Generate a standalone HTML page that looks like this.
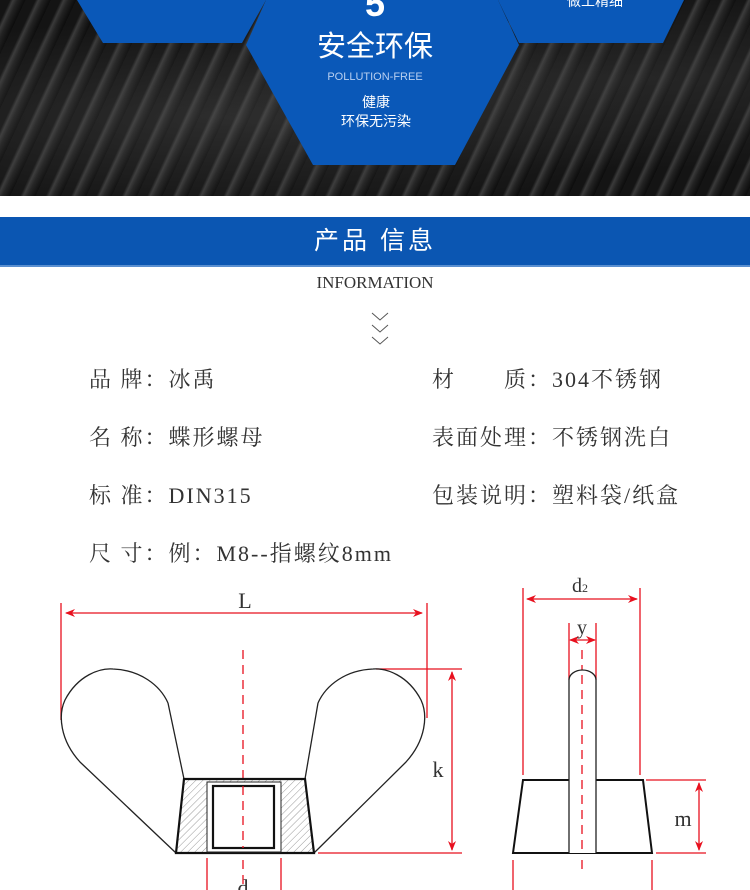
<!DOCTYPE html>
<html><head><meta charset="utf-8"><style>
html,body{margin:0;padding:0;background:#fff;}
body{width:750px;height:890px;position:relative;overflow:hidden;font-family:"Liberation Sans","Noto Sans CJK SC",sans-serif;}
.top{position:absolute;left:0;top:0;width:750px;height:196px;
background:
radial-gradient(ellipse at 30% 60%,rgba(90,90,90,.35),rgba(0,0,0,0) 60%),
radial-gradient(ellipse at 85% 40%,rgba(80,80,80,.3),rgba(0,0,0,0) 55%),
repeating-linear-gradient(115deg,#141414 0 9px,#3a3a3a 12px,#222 16px,#0c0c0c 23px),#1a1a1a;}
.bar{position:absolute;left:0;top:217px;width:750px;height:48px;background:#0b56b2;border-bottom:2px solid #5a8fd0;}
.bar div{color:#fff;font-size:25px;text-align:center;line-height:48px;letter-spacing:3px;font-family:"Liberation Sans","Noto Sans CJK SC",sans-serif;}
.info{position:absolute;font-family:"Liberation Serif","Noto Serif CJK SC",serif;font-size:22px;letter-spacing:2px;color:#333;white-space:pre;}
</style></head><body>
<div class="top"></div>
<svg style="position:absolute;left:0;top:0" width="750" height="200">
<polygon points="77,0 266,0 242,43 103,43" fill="#0a58b8"/>
<polygon points="498,0 684,0 663,43 519,43" fill="#0a58b8"/>
<polygon points="266,0 498,0 519,45 455,165 313,165 246,45" fill="#0a58b8"/>
<text x="375" y="16" fill="#fff" font-size="36" font-weight="bold" text-anchor="middle" font-family="Liberation Sans">5</text>
<text x="375" y="56" fill="#fff" font-size="29" text-anchor="middle" font-family="Liberation Sans,Noto Sans CJK SC,sans-serif">安全环保</text>
<text x="375" y="80" fill="#b8cff0" font-size="11" text-anchor="middle" font-family="Liberation Sans">POLLUTION-FREE</text>
<text x="376" y="107" fill="#fff" font-size="14" text-anchor="middle" font-family="Liberation Sans,Noto Sans CJK SC,sans-serif">健康</text>
<text x="376" y="126" fill="#fff" font-size="14" text-anchor="middle" font-family="Liberation Sans,Noto Sans CJK SC,sans-serif">环保无污染</text>
<text x="595" y="6" fill="#fff" font-size="14" text-anchor="middle" font-family="Liberation Sans,Noto Sans CJK SC,sans-serif">做工精细</text>
</svg>
<div class="bar"><div>产品 信息</div></div>
<div style="position:absolute;left:0;width:750px;top:273px;text-align:center;font-family:'Liberation Serif',serif;font-size:17px;color:#333;">INFORMATION</div>
<svg style="position:absolute;top:0;left:368px" width="26" height="360">
<polyline points="4,313 12,320 20,313" fill="none" stroke="#555"/>
<polyline points="4,325 12,332 20,325" fill="none" stroke="#555"/>
<polyline points="4,337 12,344 20,337" fill="none" stroke="#555"/>
</svg>
<div class="info" style="left:89px;top:363px">品 牌：冰禹</div>
<div class="info" style="left:89px;top:421px">名 称：蝶形螺母</div>
<div class="info" style="left:89px;top:479px">标 准：DIN315</div>
<div class="info" style="left:89px;top:537px">尺 寸：例：M8--指螺纹8mm</div>
<div class="info" style="left:432px;top:363px">材　　质：304不锈钢</div>
<div class="info" style="left:432px;top:421px">表面处理：不锈钢洗白</div>
<div class="info" style="left:432px;top:479px">包装说明：塑料袋/纸盒</div>
<svg style="position:absolute;left:0;top:0" width="750" height="890">
<defs>
<marker id="a" markerWidth="10" markerHeight="8" refX="9" refY="4" orient="auto-start-reverse" markerUnits="userSpaceOnUse"><path d="M0,0 L10,4 L0,8 L3,4z" fill="#e8101e"/></marker>
<pattern id="h" width="5" height="5" patternUnits="userSpaceOnUse" patternTransform="rotate(45)"><line x1="0" y1="0" x2="0" y2="5" stroke="#999" stroke-width="1"/></pattern>
</defs>
<g stroke="#e8101e" stroke-width="1.3" fill="none">
<line x1="61" y1="603" x2="61" y2="720"/><line x1="427" y1="603" x2="427" y2="718"/>
<line x1="66" y1="613" x2="422" y2="613" marker-start="url(#a)" marker-end="url(#a)"/>
<line x1="243" y1="650" x2="243" y2="890" stroke-dasharray="9,6"/>
<line x1="376" y1="669" x2="462" y2="669"/><line x1="318" y1="853" x2="462" y2="853"/>
<line x1="452" y1="672" x2="452" y2="850" marker-start="url(#a)" marker-end="url(#a)"/>
<line x1="207" y1="858" x2="207" y2="890"/><line x1="281" y1="858" x2="281" y2="890"/>
<line x1="523" y1="588" x2="523" y2="775"/><line x1="640" y1="588" x2="640" y2="775"/>
<line x1="527" y1="599" x2="637" y2="599" marker-start="url(#a)" marker-end="url(#a)"/>
<line x1="569" y1="623" x2="569" y2="680"/><line x1="596" y1="623" x2="596" y2="680"/>
<line x1="570" y1="640" x2="595" y2="640" marker-start="url(#a)" marker-end="url(#a)"/>
<line x1="582" y1="650" x2="582" y2="875" stroke-dasharray="9,6"/>
<line x1="646" y1="780" x2="706" y2="780"/><line x1="656" y1="853" x2="706" y2="853"/>
<line x1="699" y1="783" x2="699" y2="850" marker-start="url(#a)" marker-end="url(#a)"/>
<line x1="513" y1="860" x2="513" y2="890"/><line x1="652" y1="860" x2="652" y2="890"/>
</g>
<g font-family="Liberation Serif,serif" fill="#333">
<text x="245" y="608" font-size="22" text-anchor="middle">L</text>
<text x="438" y="777" font-size="22" text-anchor="middle">k</text>
<text x="243" y="895" font-size="22" text-anchor="middle">d</text>
<text x="580" y="592" font-size="20" text-anchor="middle">d<tspan font-size="12">2</tspan></text>
<text x="582" y="634" font-size="20" text-anchor="middle">y</text>
<text x="683" y="826" font-size="22" text-anchor="middle">m</text>
</g>
<g stroke="#222" stroke-width="1.3" fill="none">
<path d="M168,703 L184,779 M176,853 L80,762 C60,740 58,715 65,700 C78,675 100,668 113,669 C140,670 160,685 168,703"/>
<path d="M318,703 L305,779 M314,853 L406,762 C426,740 428,715 421,700 C408,675 386,668 373,669 C346,670 326,685 318,703"/>
</g>
<path d="M184,779 L305,779 L314,853 L176,853 Z" fill="url(#h)" stroke="#111" stroke-width="2.2"/>
<rect x="207" y="782" width="74" height="70" fill="#fff" stroke="#222" stroke-width="1"/>
<rect x="213" y="786" width="61" height="62" fill="#fff" stroke="#111" stroke-width="2.2"/>
<line x1="243" y1="786" x2="243" y2="848" stroke="#e8101e" stroke-width="1.3" stroke-dasharray="9,6"/>
<path d="M523,780 L643,780 L652,853 L513,853 Z" fill="none" stroke="#111" stroke-width="2"/>
<path d="M569,853 L569,680 A13.5,10 0 0 1 596,680 L596,853" fill="#fff" stroke="#222" stroke-width="1.3"/>
<line x1="582" y1="675" x2="582" y2="853" stroke="#e8101e" stroke-width="1.3" stroke-dasharray="9,6"/>
</svg>
</body></html>
